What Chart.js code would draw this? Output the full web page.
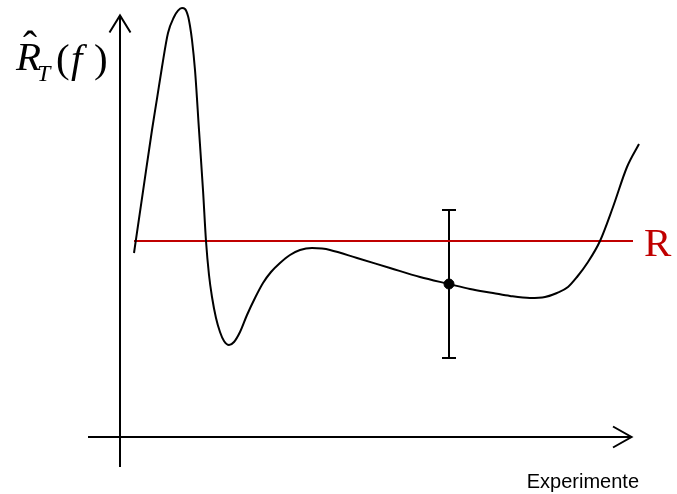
<!DOCTYPE html>
<html>
<head>
<meta charset="utf-8">
<script src="https://cdn.jsdelivr.net/npm/chart.js@4"></script>
<style>
  html, body { margin: 0; padding: 0; background: #fff; }
  #wrap { width: 677px; height: 494px; position: relative; }
</style>
</head>
<body>
<div id="wrap"><canvas id="c"></canvas></div>
<script>
// Empirical risk curve over experiments (arbitrary units)
const curveX = [2.8, 4.6, 6.4, 7.4, 8.4, 9.6, 10.8, 11.6, 12.4, 13, 13.6, 14, 14.4, 15, 15.8, 16.6, 17.2, 17.8, 18.4, 19.2, 20, 20.8, 21.8, 22.8, 24, 25.4, 27, 28.6, 30.2, 32, 34, 36, 38.4, 40.4, 42, 47.4, 54, 60, 65.8, 70, 74.6, 78, 82, 85, 87.4, 89.6, 91.4, 93.6, 96, 98.6, 101.4, 103.8];
const curveY = [46, 61.4, 76.75, 84.6, 92.5, 101, 105, 106.6, 107.25, 107, 105.25, 102.75, 99.25, 91.75, 76.75, 61.75, 49, 40.5, 35, 29.75, 26.25, 24, 23, 23.75, 26.25, 30.5, 34.75, 38.5, 41.25, 43.5, 45.5, 46.75, 47.25, 47.1, 46.75, 44.75, 42.25, 40, 38.25, 37, 36, 35.25, 34.75, 35, 36, 37.5, 40, 43.75, 49, 57.5, 67.5, 73.25];
// True risk R
const riskLevel = 49;
const riskXRange = [2.8, 102.6];
// Single experiment with error bar
const pointX = 65.8;
const pointY = 38.25;
const errLow = 19.75;
const errHigh = 56.75;
// Axis extents
const axisXRange = [-6.4, 102.4];
const axisYRange = [-7.5, 105.5];
const xLabel = 'Experimente';
const rLabel = 'R';

const curveData = curveX.map((x, i) => ({x, y: curveY[i]}));
const riskData = riskXRange.map(x => ({x, y: riskLevel}));

const overlay = {
  id: 'overlay',
  beforeDatasetsDraw(chart) {
    const {ctx, scales: {x, y}} = chart;
    ctx.save();
    ctx.strokeStyle = '#000';
    ctx.lineWidth = 2;
    ctx.lineCap = 'butt';
    const x0 = x.getPixelForValue(0), y0 = y.getPixelForValue(0);
    // y axis
    const yt = y.getPixelForValue(axisYRange[1]), yb = y.getPixelForValue(axisYRange[0]);
    ctx.beginPath(); ctx.moveTo(x0, yb); ctx.lineTo(x0, yt); ctx.stroke();
    ctx.beginPath(); ctx.moveTo(x0 - 10.5, yt + 17.5); ctx.lineTo(x0, yt + 0.5); ctx.lineTo(x0 + 10.5, yt + 17.5); ctx.stroke();
    // x axis
    const xl = x.getPixelForValue(axisXRange[0]), xr = x.getPixelForValue(axisXRange[1]);
    ctx.beginPath(); ctx.moveTo(xl, y0); ctx.lineTo(xr, y0); ctx.stroke();
    ctx.beginPath(); ctx.moveTo(xr - 19, y0 - 10.5); ctx.lineTo(xr - 0.5, y0); ctx.lineTo(xr - 19, y0 + 10.5); ctx.stroke();
    // error bar
    const ex = x.getPixelForValue(pointX);
    const eh = y.getPixelForValue(errHigh), el = y.getPixelForValue(errLow);
    ctx.beginPath(); ctx.moveTo(ex, eh); ctx.lineTo(ex, el);
    ctx.moveTo(ex - 7, eh); ctx.lineTo(ex + 7, eh);
    ctx.moveTo(ex - 7, el); ctx.lineTo(ex + 7, el); ctx.stroke();

    // texts
    ctx.fillStyle = '#000';
    ctx.textBaseline = 'alphabetic';
    ctx.textAlign = 'right';
    ctx.font = '20px "Liberation Sans", Arial, sans-serif';
    ctx.fillText(xLabel, xr + 7, y0 + 51);

    ctx.fillStyle = '#c00000';
    ctx.textAlign = 'left';
    ctx.font = '41px "Liberation Serif", "Times New Roman", serif';
    ctx.fillText(rLabel, x.getPixelForValue(riskXRange[1]) + 11, y.getPixelForValue(riskLevel) + 15);

    // y label: R^_T(f)
    ctx.fillStyle = '#000';
    ctx.font = 'italic 41px "Liberation Serif", "Times New Roman", serif';
    ctx.fillText('R', 16, 70);
    ctx.font = '42px "Liberation Serif", "Times New Roman", serif';
    ctx.fillText('\u02C6', 23, 60);
    ctx.font = 'italic 24px "Liberation Serif", "Times New Roman", serif';
    ctx.fillText('T', 37, 81);
    ctx.font = '41px "Liberation Serif", "Times New Roman", serif';
    ctx.fillText('(', 56, 72);
    ctx.font = 'italic 41px "Liberation Serif", "Times New Roman", serif';
    ctx.fillText('f', 71, 72);
    ctx.font = '41px "Liberation Serif", "Times New Roman", serif';
    ctx.fillText(')', 94, 72);
    ctx.restore();
  }
};

new Chart(document.getElementById('c'), {
  type: 'line',
  data: {
    datasets: [
      { data: riskData, borderColor: '#c00000', borderWidth: 2, pointRadius: 0, tension: 0, order: 3 },
      { data: curveData, borderColor: '#000', borderWidth: 2, pointRadius: 0, cubicInterpolationMode: 'monotone', order: 2 },
      { data: [{x: pointX, y: pointY}], showLine: false, backgroundColor: '#000', borderColor: '#000', pointRadius: 5, order: 1 }
    ]
  },
  options: {
    responsive: true,
    maintainAspectRatio: false,
    animation: false,
    layout: { padding: 0, autoPadding: false },
    plugins: { legend: { display: false }, tooltip: { enabled: false } },
    scales: {
      x: { type: 'linear', display: false, min: -24, max: 111.4 },
      y: { type: 'linear', display: false, min: -14.25, max: 109.25 }
    }
  },
  plugins: [overlay]
});
</script>
</body>
</html>
